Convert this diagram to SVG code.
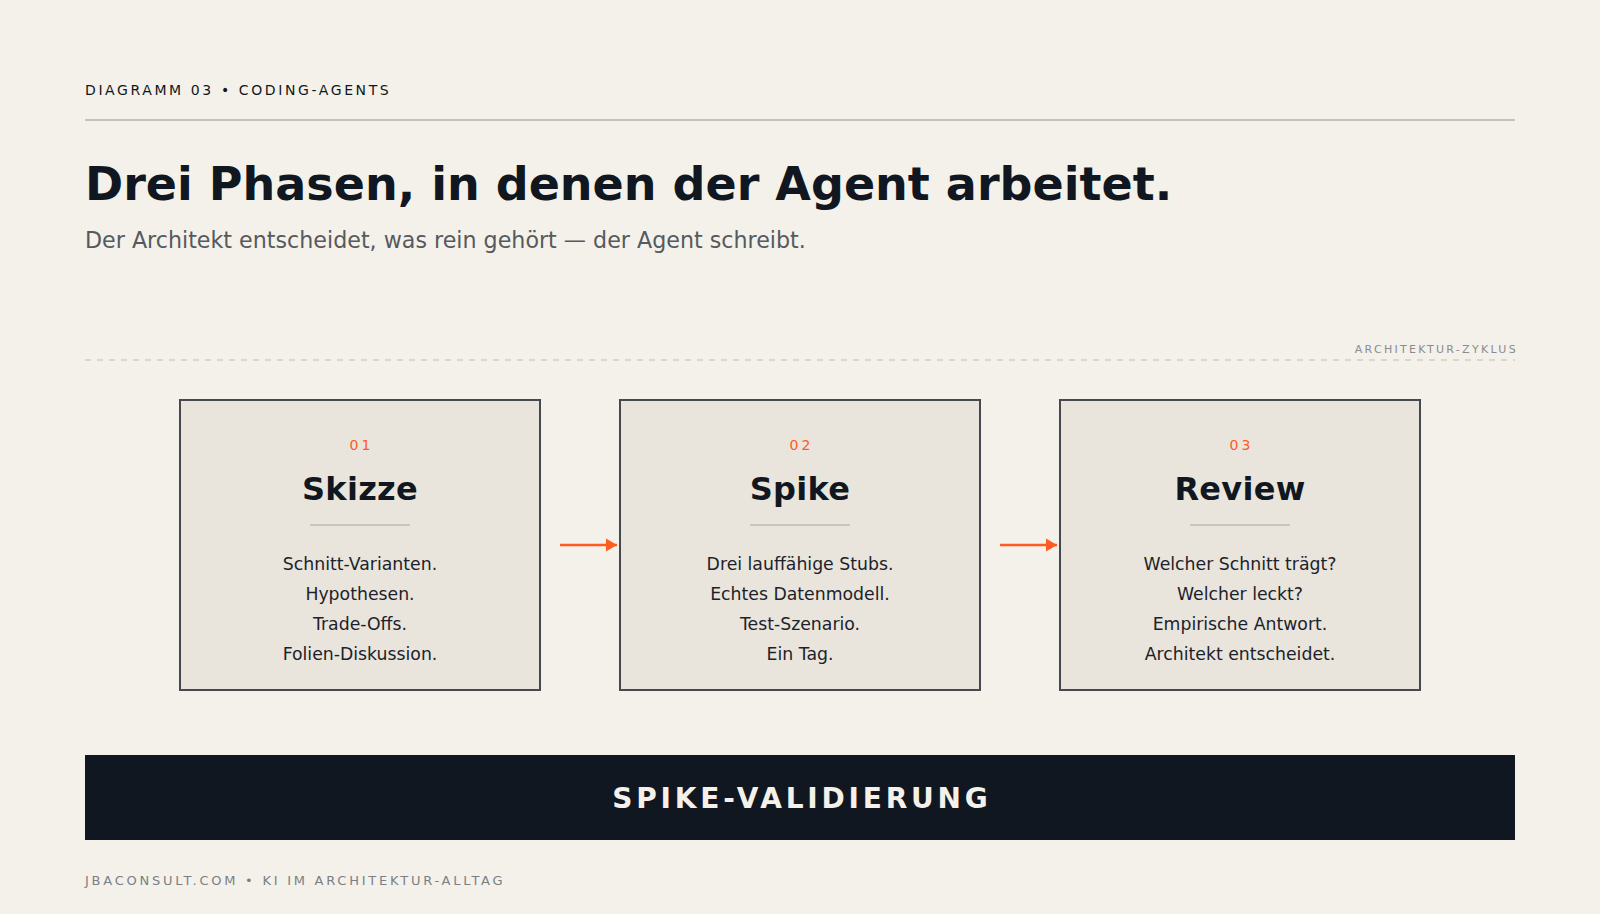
<svg xmlns="http://www.w3.org/2000/svg" width="1600" height="914" viewBox="0 0 1600 914">
  <defs>
    <style>
      .f { font-family: "DejaVu Sans", Verdana, sans-serif; }
      .box { fill: #e9e5dc; stroke: #45494f; stroke-width: 2; }
      .num { font-size: 14px; fill: #ff5a1f; letter-spacing: 3px; text-anchor: middle; }
      .ttl { font-size: 32px; font-weight: bold; fill: #111720; text-anchor: middle; letter-spacing: 0.3px; }
      .body { font-size: 17.3px; fill: #1c222b; text-anchor: middle; }
      .div { stroke: #c9c5bb; stroke-width: 2; }
      .conn { stroke: #ff5a1f; stroke-width: 2.5; fill: none; }
    </style>
    <marker id="ah" markerWidth="12" markerHeight="14" refX="11" refY="7" orient="auto" markerUnits="userSpaceOnUse">
      <path d="M0,0.5 L11,7 L0,13.5 Z" fill="#ff5a1f"/>
    </marker>
  </defs>
  <rect x="0" y="0" width="1600" height="914" fill="#f4f1ea"/>

  <g id="header">
    <text class="f" x="85" y="95" font-size="14" letter-spacing="2.6" fill="#111720">DIAGRAMM 03 • CODING-AGENTS</text>
    <line x1="85" y1="120" x2="1515" y2="120" stroke="#c2c0bb" stroke-width="2"/>
    <text class="f" x="85" y="200" font-size="46" font-weight="bold" fill="#111720">Drei Phasen, in denen der Agent arbeitet.</text>
    <text class="f" x="85" y="248" font-size="22.2" fill="#555a60">Der Architekt entscheidet, was rein gehört — der Agent schreibt.</text>
  </g>

  <g id="section-label">
    <line x1="85" y1="360" x2="1515" y2="360" stroke="#dbd7cf" stroke-width="2" stroke-dasharray="6 6"/>
    <text class="f" x="1518" y="353" font-size="11" letter-spacing="2.3" fill="#8a8c90" text-anchor="end">ARCHITEKTUR-ZYKLUS</text>
  </g>

  <g id="connectors">
    <line class="conn" x1="560" y1="545" x2="617" y2="545" marker-end="url(#ah)"/>
    <line class="conn" x1="1000" y1="545" x2="1057" y2="545" marker-end="url(#ah)"/>
  </g>

  <g id="node-skizze">
    <rect class="box" x="180" y="400" width="360" height="290"/>
    <text class="f num" x="361.5" y="450">01</text>
    <text class="f ttl" x="360" y="500">Skizze</text>
    <line class="div" x1="310" y1="525" x2="410" y2="525"/>
    <text class="f body" x="360" y="570">Schnitt-Varianten.</text>
    <text class="f body" x="360" y="600">Hypothesen.</text>
    <text class="f body" x="360" y="630">Trade-Offs.</text>
    <text class="f body" x="360" y="660">Folien-Diskussion.</text>
  </g>

  <g id="node-spike">
    <rect class="box" x="620" y="400" width="360" height="290"/>
    <text class="f num" x="801.5" y="450">02</text>
    <text class="f ttl" x="800" y="500">Spike</text>
    <line class="div" x1="750" y1="525" x2="850" y2="525"/>
    <text class="f body" x="800" y="570">Drei lauffähige Stubs.</text>
    <text class="f body" x="800" y="600">Echtes Datenmodell.</text>
    <text class="f body" x="800" y="630">Test-Szenario.</text>
    <text class="f body" x="800" y="660">Ein Tag.</text>
  </g>

  <g id="node-review">
    <rect class="box" x="1060" y="400" width="360" height="290"/>
    <text class="f num" x="1241.5" y="450">03</text>
    <text class="f ttl" x="1240" y="500">Review</text>
    <line class="div" x1="1190" y1="525" x2="1290" y2="525"/>
    <text class="f body" x="1240" y="570">Welcher Schnitt trägt?</text>
    <text class="f body" x="1240" y="600">Welcher leckt?</text>
    <text class="f body" x="1240" y="630">Empirische Antwort.</text>
    <text class="f body" x="1240" y="660">Architekt entscheidet.</text>
  </g>

  <g id="banner">
    <rect x="85" y="755" width="1430" height="85" fill="#111720"/>
    <text class="f" x="802" y="808" font-size="28" font-weight="bold" letter-spacing="3.8" fill="#f4f1ea" text-anchor="middle">SPIKE-VALIDIERUNG</text>
  </g>

  <g id="footer">
    <text class="f" x="85" y="885" font-size="13" letter-spacing="2.75" fill="#7a7f87">JBACONSULT.COM • KI IM ARCHITEKTUR-ALLTAG</text>
  </g>
</svg>
